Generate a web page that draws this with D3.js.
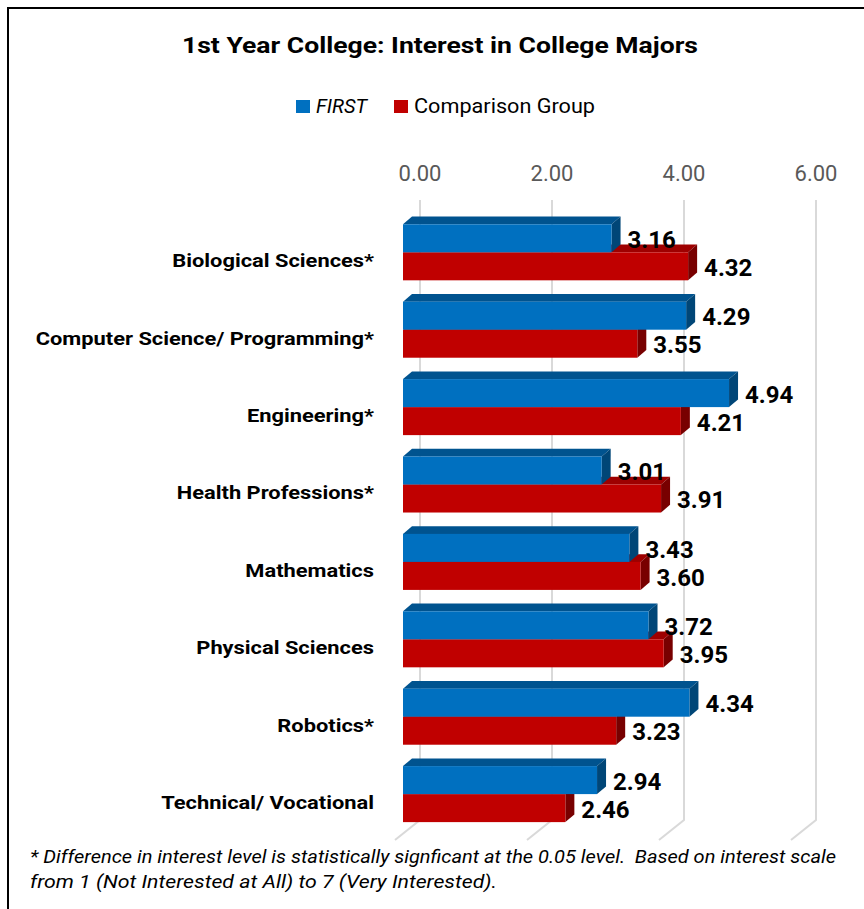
<!DOCTYPE html>
<html>
<head>
<meta charset="utf-8">
<script src="https://cdn.jsdelivr.net/npm/d3@7"></script>
<style>
  body { margin: 0; background: #fff; }
  svg { display: block; font-family: Roboto, "Open Sans", sans-serif; }
</style>
</head>
<body>
<svg id="chart"></svg>
<script>
// chart values
var categories = ["Biological Sciences*", "Computer Science/ Programming*", "Engineering*",
                  "Health Professions*", "Mathematics", "Physical Sciences", "Robotics*",
                  "Technical/ Vocational"];
var seriesNames = ["FIRST", "Comparison Group"];
var firstValues = [3.16, 4.29, 4.94, 3.01, 3.43, 3.72, 4.34, 2.94];
var comparisonValues = [4.32, 3.55, 4.21, 3.91, 3.60, 3.95, 3.23, 2.46];
var tickValues = [0, 2, 4, 6];
var footnote = ["* Difference in interest level is statistically signficant at the 0.05 level.  Based on interest scale",
                "from 1 (Not Interested at All) to 7 (Very Interested)."];

var width = 864, height = 909;
var colors = {
  front: ["#0070C0", "#C00000"],
  top:   ["#00538F", "#9E0000"],
  side:  ["#004677", "#780000"]
};
var depth = {dx: 9, dy: -7.7};     // bar depth offset
var wall = {dx: 17, top: 200, floor: 820};

var svg = d3.select("#chart")
            .attr("width", width)
            .attr("height", height);

// outer frame
svg.append("rect")
   .attr("x", 8).attr("y", 8)
   .attr("width", 900).attr("height", 950)
   .attr("fill", "none")
   .attr("stroke", "#000")
   .attr("stroke-width", 2);

// stretch a text to the width
function fit(sel, w) {
    sel.attr("textLength", w).attr("lengthAdjust", "spacingAndGlyphs");
}

var x = d3.scaleLinear().domain([0, 6]).range([403, 799]);
var y = d3.scaleBand().domain(categories)
          .range([213.6, 832.8]).paddingInner(0.276).paddingOuter(0.138);
var ySub = d3.scaleBand().domain(seriesNames).range([0, y.bandwidth()]);

// title
svg.append("text")
   .attr("x", 182).attr("y", 53)
   .attr("font-size", 22).attr("font-weight", "bold")
   .text("1st Year College: Interest in College Majors")
   .call(fit, 516);

// legend
var legend = [{x: 296, tx: 316, w: 51, italic: true}, {x: 394, tx: 414, w: 181, italic: false}];
legend.forEach(function(l, i) {
    svg.append("rect")
       .attr("x", l.x).attr("y", 100).attr("width", 14).attr("height", 13)
       .attr("fill", colors.front[i]);
    svg.append("text")
       .attr("x", l.tx).attr("y", 113)
       .attr("font-size", 20)
       .attr("font-style", l.italic ? "italic" : "normal")
       .attr("fill", "#000")
       .text(seriesNames[i])
       .call(fit, l.w);
});

// gridlines on back wall + floor
var grid = svg.append("g");
tickValues.forEach(function(t) {
    var gx = x(t) + wall.dx;
    grid.append("path")
        .attr("d", "M" + gx + "," + wall.top + "V" + wall.floor + "l-25,20")
        .attr("fill", "none")
        .attr("stroke", "#d9d9d9")
        .attr("stroke-width", 2);
    svg.append("text")
       .attr("x", gx).attr("y", 181)
       .attr("text-anchor", "middle")
       .attr("font-size", 22)
       .attr("fill", "#595959")
       .text(d3.format(".2f")(t));
});

// bars
var data = categories.map(function(c, i) {
    return {cat: c, vals: [firstValues[i], comparisonValues[i]]};
});

var groups = svg.append("g").selectAll("g")
    .data(data)
    .enter().append("g")
    .attr("transform", function(d) { return "translate(0," + y(d.cat) + ")"; });

// draw comparison first so the FIRST bar covers its hidden top
[1, 0].forEach(function(s) {
    groups.each(function(d) {
        var g = d3.select(this);
        var x0 = x(0), x1 = x(d.vals[s]);
        var y0 = ySub(seriesNames[s]), y1 = y0 + ySub.bandwidth();
        // top face
        g.append("path")
         .attr("d", "M" + x0 + "," + y0 + "L" + (x0 + depth.dx) + "," + (y0 + depth.dy) +
                    "L" + (x1 + depth.dx) + "," + (y0 + depth.dy) + "L" + x1 + "," + y0 + "Z")
         .attr("fill", colors.top[s]);
        // side face
        g.append("path")
         .attr("d", "M" + x1 + "," + y0 + "L" + (x1 + depth.dx) + "," + (y0 + depth.dy) +
                    "L" + (x1 + depth.dx) + "," + (y1 + depth.dy) + "L" + x1 + "," + y1 + "Z")
         .attr("fill", colors.side[s]);
        // front face
        g.append("rect")
         .attr("x", x0).attr("y", y0)
         .attr("width", x1 - x0).attr("height", y1 - y0)
         .attr("fill", colors.front[s]);
    });
});

// value labels
[0, 1].forEach(function(s) {
    groups.append("text")
          .attr("x", function(d) { return x(d.vals[s]) + depth.dx + 7; })
          .attr("y", function(d) { return ySub(seriesNames[s]) + ySub.bandwidth() / 2 + 1; })
          .attr("dy", "0.36em")
          .attr("font-size", 24)
          .attr("font-weight", "bold")
          .attr("fill", "#000")
          .text(function(d) { return d3.format(".2f")(d.vals[s]); });
});

// category labels (widened a bit, the original font is narrower and larger)
groups.append("text")
      .attr("x", 374)
      .attr("y", y.bandwidth() / 2 + 8)
      .attr("dy", "0.36em")
      .attr("text-anchor", "end")
      .attr("font-size", 19)
      .attr("font-weight", "bold")
      .attr("fill", "#000")
      .text(function(d) { return d.cat; })
      .each(function() {
          var w = this.getComputedTextLength();
          d3.select(this).call(fit, w * 1.15);
      });

// footnote
var fw = [806, 467];
footnote.forEach(function(line, i) {
    svg.append("text")
       .attr("x", 30).attr("y", 863 + i * 25)
       .attr("font-size", 17.5)
       .attr("font-style", "italic")
       .style("white-space", "pre")
       .attr("fill", "#000")
       .text(line)
       .call(fit, fw[i]);
});
</script>
</body>
</html>
